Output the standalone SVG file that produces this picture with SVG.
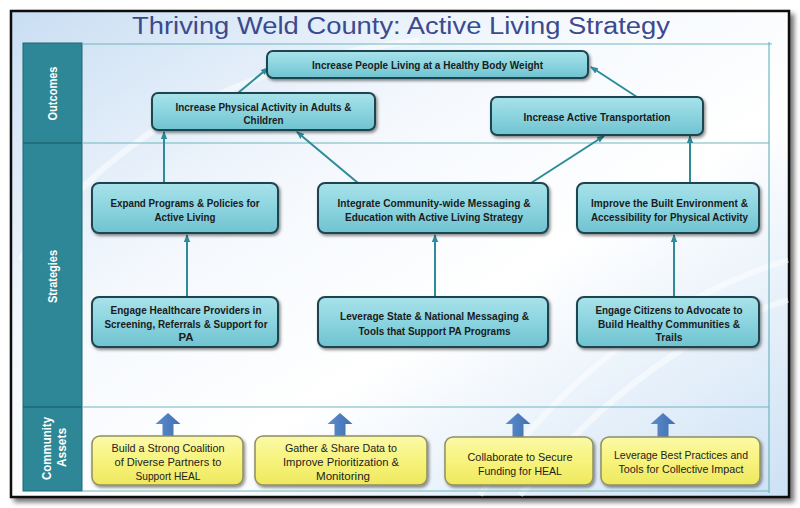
<svg xmlns="http://www.w3.org/2000/svg" width="800" height="508" viewBox="0 0 800 508">
<defs>
<linearGradient id="bg" x1="0" y1="0" x2="1" y2="1">
<stop offset="0" stop-color="#c9def3"/>
<stop offset="0.35" stop-color="#f4f8fd"/>
<stop offset="0.6" stop-color="#ffffff"/>
<stop offset="1" stop-color="#cde1f5"/>
</linearGradient>
<linearGradient id="teal" x1="0" y1="0" x2="0" y2="1">
<stop offset="0" stop-color="#a9e2ea"/>
<stop offset="0.5" stop-color="#8bd4df"/>
<stop offset="1" stop-color="#6fc3d0"/>
</linearGradient>
<linearGradient id="yel" x1="0" y1="0" x2="0" y2="1">
<stop offset="0" stop-color="#fbf9a8"/>
<stop offset="0.5" stop-color="#f7f37c"/>
<stop offset="1" stop-color="#eee85e"/>
</linearGradient>
<linearGradient id="blu" x1="0" y1="0" x2="1" y2="0">
<stop offset="0" stop-color="#5d8dcc"/>
<stop offset="1" stop-color="#3f6fb2"/>
</linearGradient>
<filter id="sh" x="-10%" y="-20%" width="120%" height="150%">
<feDropShadow dx="1.5" dy="2" stdDeviation="1.5" flood-color="#000" flood-opacity="0.45"/>
</filter>
<filter id="fsh" x="-5%" y="-5%" width="110%" height="110%">
<feDropShadow dx="4" dy="4" stdDeviation="2.5" flood-color="#000" flood-opacity="0.55"/>
</filter>
<marker id="ah" markerUnits="userSpaceOnUse" markerWidth="8" markerHeight="8" viewBox="0 0 8 8" refX="7" refY="4" orient="auto">
<path d="M0,0.8 L8,4 L0,7.2 Z" fill="#2c8c99"/>
</marker>
<style>
.tb{fill:url(#teal);stroke:#1f4550;stroke-width:2;filter:url(#sh)}
.yb{fill:url(#yel);stroke:#8f8f62;stroke-width:1.5;filter:url(#sh)}
.t{font-family:"Liberation Sans",Arial,sans-serif;font-size:11px;font-weight:bold;fill:#1b1b1b;text-anchor:middle}
.y{font-family:"Liberation Sans",Arial,sans-serif;font-size:11px;fill:#222;text-anchor:middle}
.sec{font-family:"Liberation Sans",Arial,sans-serif;font-size:12px;font-weight:bold;fill:#ffffff;text-anchor:middle}
.grid{stroke:#6fb6be;stroke-width:1.2;fill:none}
.con{stroke:#2c8c99;stroke-width:2;fill:none;marker-end:url(#ah)}
.blk{fill:url(#blu)}
</style>
</defs>

<!-- frame -->
<rect x="11" y="11" width="778" height="486" fill="url(#bg)" stroke="#111" stroke-width="2.5" filter="url(#fsh)"/>
<g opacity="0.5" fill="none" stroke="#ffffff" stroke-width="6">
<path d="M20,260 C120,120 260,60 420,40"/>
<path d="M480,495 C560,380 660,300 788,260"/>
<path d="M520,495 C600,400 690,330 788,300"/>
</g>

<!-- title -->
<text x="401" y="34" font-family="'Liberation Sans',Arial,sans-serif" font-size="23" fill="#3c4a8d" text-anchor="middle" textLength="538" lengthAdjust="spacingAndGlyphs">Thriving Weld County: Active Living Strategy</text>

<!-- side band -->
<g id="band">
<rect x="23" y="43" width="59" height="448" fill="#2e8796" stroke="#1f6672" stroke-width="1"/>
<line x1="23" y1="143" x2="82" y2="143" stroke="#1f6672" stroke-width="1.5"/>
<line x1="23" y1="407" x2="82" y2="407" stroke="#1f6672" stroke-width="1.5"/>
<text class="sec" transform="translate(53,93.5) rotate(-90)" dy="0.35em" textLength="54" lengthAdjust="spacingAndGlyphs">Outcomes</text>
<text class="sec" transform="translate(53,276.5) rotate(-90)" dy="0.35em" textLength="53" lengthAdjust="spacingAndGlyphs">Strategies</text>
<text class="sec" transform="translate(47,448.5) rotate(-90)" dy="0.35em" textLength="63" lengthAdjust="spacingAndGlyphs">Community</text>
<text class="sec" transform="translate(62,447.5) rotate(-90)" dy="0.35em" textLength="39" lengthAdjust="spacingAndGlyphs">Assets</text>
</g>

<!-- grid -->
<g id="grid" class="grid">
<line x1="82" y1="44" x2="772" y2="44"/>
<line x1="82" y1="143" x2="769" y2="143"/>
<line x1="82" y1="407" x2="769" y2="407"/>
<line x1="82" y1="491" x2="769" y2="491"/>
<line x1="769" y1="42" x2="769" y2="493"/>
</g>

<!-- connectors -->
<g id="connectors">
<line class="con" x1="238" y1="93" x2="268" y2="68"/>
<line class="con" x1="637" y1="97" x2="591" y2="67"/>
<line class="con" x1="164" y1="183" x2="164" y2="132"/>
<line class="con" x1="358" y1="183" x2="297" y2="132"/>
<line class="con" x1="531" y1="183" x2="604" y2="136"/>
<line class="con" x1="690" y1="183" x2="690" y2="136"/>
<line class="con" x1="187" y1="297" x2="187" y2="235"/>
<line class="con" x1="435" y1="297" x2="435" y2="235"/>
<line class="con" x1="674" y1="297" x2="674" y2="235"/>
<path class="blk" d="M168,413 L180.5,424 L173.5,424 L173.5,437 L162.5,437 L162.5,424 L155.5,424 Z"/>
<path class="blk" d="M340,413 L352.5,424 L345.5,424 L345.5,437 L334.5,437 L334.5,424 L327.5,424 Z"/>
<path class="blk" d="M518,413 L530.5,424 L523.5,424 L523.5,438 L512.5,438 L512.5,424 L505.5,424 Z"/>
<path class="blk" d="M663,413 L675.5,424 L668.5,424 L668.5,438 L657.5,438 L657.5,424 L650.5,424 Z"/>
</g>

<!-- outcomes -->
<g id="n1"><rect class="tb" x="267" y="51" width="321" height="27" rx="6"/>
<text class="t" x="427.5" y="68.5" textLength="231" lengthAdjust="spacingAndGlyphs">Increase People Living at a Healthy Body Weight</text></g>
<g id="n2"><rect class="tb" x="152" y="93" width="223" height="37" rx="6"/>
<text class="t" x="263.5" y="111" textLength="176" lengthAdjust="spacingAndGlyphs">Increase Physical Activity in Adults &amp;</text>
<text class="t" x="263.5" y="124" textLength="40" lengthAdjust="spacingAndGlyphs">Children</text></g>
<g id="n3"><rect class="tb" x="491" y="97" width="212" height="38" rx="6"/>
<text class="t" x="597" y="120.5" textLength="147" lengthAdjust="spacingAndGlyphs">Increase Active Transportation</text></g>

<!-- strategies -->
<g id="n4"><rect class="tb" x="92" y="183" width="186" height="50" rx="7"/>
<text class="t" x="185" y="206.5" textLength="149" lengthAdjust="spacingAndGlyphs">Expand Programs &amp; Policies for</text>
<text class="t" x="185" y="220.5" textLength="61" lengthAdjust="spacingAndGlyphs">Active Living</text></g>
<g id="n5"><rect class="tb" x="318" y="183" width="230" height="50" rx="7"/>
<text class="t" x="434" y="206.5" textLength="193" lengthAdjust="spacingAndGlyphs">Integrate Community-wide Messaging &amp;</text>
<text class="t" x="434" y="220.5" textLength="178" lengthAdjust="spacingAndGlyphs">Education with Active Living Strategy</text></g>
<g id="n6"><rect class="tb" x="577" y="183" width="182" height="50" rx="7"/>
<text class="t" x="669.5" y="206.5" textLength="157" lengthAdjust="spacingAndGlyphs">Improve the Built Environment &amp;</text>
<text class="t" x="669.5" y="220.5" textLength="157" lengthAdjust="spacingAndGlyphs">Accessibility for Physical Activity</text></g>
<g id="n7"><rect class="tb" x="92" y="297" width="186" height="50" rx="7"/>
<text class="t" x="186" y="314" textLength="151" lengthAdjust="spacingAndGlyphs">Engage Healthcare Providers in</text>
<text class="t" x="186" y="327.5" textLength="163" lengthAdjust="spacingAndGlyphs">Screening, Referrals &amp; Support for</text>
<text class="t" x="186" y="341" textLength="15" lengthAdjust="spacingAndGlyphs">PA</text></g>
<g id="n8"><rect class="tb" x="318" y="297" width="230" height="50" rx="7"/>
<text class="t" x="434.5" y="320" textLength="189" lengthAdjust="spacingAndGlyphs">Leverage State &amp; National Messaging &amp;</text>
<text class="t" x="434.5" y="334.5" textLength="152" lengthAdjust="spacingAndGlyphs">Tools that Support PA Programs</text></g>
<g id="n9"><rect class="tb" x="577" y="297" width="182" height="50" rx="7"/>
<text class="t" x="669" y="314" textLength="147" lengthAdjust="spacingAndGlyphs">Engage Citizens to Advocate to</text>
<text class="t" x="669" y="327.5" textLength="142" lengthAdjust="spacingAndGlyphs">Build Healthy Communities &amp;</text>
<text class="t" x="669" y="341" textLength="27" lengthAdjust="spacingAndGlyphs">Trails</text></g>

<!-- community assets -->
<g id="n10"><rect class="yb" x="92" y="436" width="151" height="49" rx="8"/>
<text class="y" x="168" y="452" textLength="113" lengthAdjust="spacingAndGlyphs">Build a Strong Coalition</text>
<text class="y" x="168" y="466" textLength="107" lengthAdjust="spacingAndGlyphs">of Diverse Partners to</text>
<text class="y" x="168" y="480" textLength="65" lengthAdjust="spacingAndGlyphs">Support HEAL</text></g>
<g id="n11"><rect class="yb" x="255" y="436" width="172" height="49" rx="8"/>
<text class="y" x="341" y="452" textLength="112" lengthAdjust="spacingAndGlyphs">Gather &amp; Share Data to</text>
<text class="y" x="341" y="466" textLength="116" lengthAdjust="spacingAndGlyphs">Improve Prioritization &amp;</text>
<text class="y" x="343" y="480" textLength="54" lengthAdjust="spacingAndGlyphs">Monitoring</text></g>
<g id="n12"><rect class="yb" x="445" y="437" width="148" height="48" rx="8"/>
<text class="y" x="520" y="461" textLength="105" lengthAdjust="spacingAndGlyphs">Collaborate to Secure</text>
<text class="y" x="520" y="475" textLength="84" lengthAdjust="spacingAndGlyphs">Funding for HEAL</text></g>
<g id="n13"><rect class="yb" x="601" y="437" width="159" height="48" rx="8"/>
<text class="y" x="681" y="459" textLength="134" lengthAdjust="spacingAndGlyphs">Leverage Best Practices and</text>
<text class="y" x="681" y="473" textLength="125" lengthAdjust="spacingAndGlyphs">Tools for Collective Impact</text></g>
</svg>
